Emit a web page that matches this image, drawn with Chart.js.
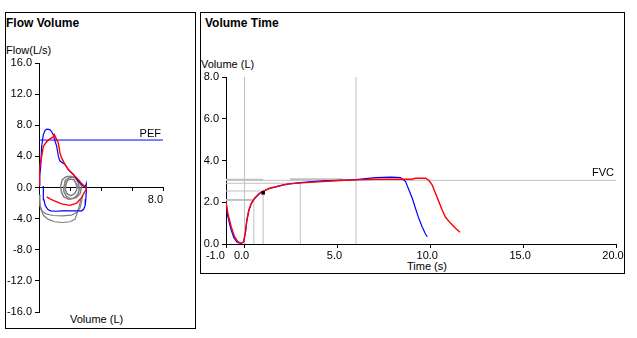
<!DOCTYPE html>
<html>
<head>
<meta charset="utf-8">
<script src="https://cdn.jsdelivr.net/npm/chart.js@4/dist/chart.umd.min.js"></script>
<style>
  body { margin: 0; width: 637px; height: 338px; background: #fff; position: relative; overflow: hidden;
         font-family: "Liberation Sans", Arial, sans-serif; font-size: 11px; color: #000; }
  .panel { position: absolute; border: 1px solid #000; box-sizing: border-box; }
  .txt { position: absolute; line-height: 1; white-space: nowrap; }
  .bold { font-weight: bold; font-size: 12px; }
  canvas { position: absolute; }
</style>
</head>
<body>
<div class="panel" style="left:5px;top:12px;width:191px;height:317px"></div>
<div class="panel" style="left:200px;top:12px;width:425px;height:262px"></div>

<div class="txt bold" style="left:6px;top:17.2px">Flow Volume</div>
<div class="txt" style="left:6px;top:45.2px">Flow(L/s)</div>
<div class="txt" style="left:70px;top:314px">Volume (L)</div>

<div class="txt bold" style="left:205px;top:17.2px">Volume Time</div>
<div class="txt" style="left:201px;top:58.7px">Volume (L)</div>
<div class="txt" style="left:407px;top:260.8px">Time (s)</div>

<canvas id="fv" width="188" height="314" style="left:6px;top:13px;width:188px;height:314px"></canvas>
<canvas id="vt" width="423" height="259" style="left:201px;top:13px;width:423px;height:259px"></canvas>

<script>
// ---- Flow Volume data (volume L, flow L/s) ----
const fvBlueVol  = [0.0, 0.05, 0.11, 0.17, 0.28, 0.39, 0.5, 0.7, 0.8, 0.92, 1.03, 1.14, 1.25, 1.35, 1.68, 1.89, 2.21, 2.54, 2.86, 3.0,
                    3.05, 3.05, 3.02, 2.98, 2.88, 2.75, 2.0, 1.5, 1.1, 0.75, 0.56, 0.4, 0.32, 0.28, 0.28];
const fvBlueFlow = [0.3, 1.5, 2.7, 5.3, 6.8, 7.35, 7.5, 7.45, 7.2, 6.8, 6.0, 5.3, 4.0, 3.4, 2.95, 2.3, 1.67, 0.8, 0.17, 0.2,
                    0.5, -0.5, -1.5, -2.3, -2.8, -3.0, -3.0, -3.0, -3.05, -3.0, -2.8, -2.3, -1.6, -0.5, 0.2];

const fvRedVol  = [0.0, 0.0, 0.06, 0.17, 0.28, 0.5, 0.71, 0.92, 0.99, 1.14, 1.25, 1.35, 1.46, 1.68, 1.89, 2.11, 2.43, 2.75, 3.03,
                   3.03, 2.75, 2.43, 2.0, 1.46, 1.03, 0.71, 0.5];
const fvRedFlow = [0.3, 1.45, 2.5, 4.0, 5.3, 5.9, 6.25, 6.5, 6.8, 6.15, 5.7, 4.45, 3.8, 2.95, 2.3, 1.9, 1.24, 0.5, 0.0,
                   -0.26, -1.3, -2.0, -2.3, -2.1, -1.75, -1.45, -1.2];

// tidal breathing loops (gray)
const tidalAVol  = [1.4, 1.5, 1.75, 2.05, 2.35, 2.55, 2.6, 2.5, 2.25, 1.9, 1.6, 1.45, 1.4];
const tidalAFlow = [0.2, 1.0, 1.4, 1.45, 1.2, 0.6, -0.2, -0.9, -1.4, -1.5, -1.2, -0.6, 0.2];
const tidalBVol  = [1.6, 1.7, 1.95, 2.3, 2.6, 2.75, 2.65, 2.4, 2.05, 1.75, 1.6, 1.6];
const tidalBFlow = [0.0, 0.9, 1.3, 1.35, 0.9, 0.1, -0.8, -1.3, -1.45, -1.1, -0.5, 0.0];
const tidalCVol  = [1.7, 1.8, 2.0, 2.25, 2.4, 2.45, 2.3, 2.05, 1.8, 1.7, 1.7];
const tidalCFlow = [0.1, 0.8, 1.1, 1.0, 0.5, -0.2, -0.8, -1.05, -0.8, -0.3, 0.1];
const grayInAVol  = [0.0, 0.06, 0.2, 0.45, 0.9, 1.5, 2.1, 2.45, 2.65, 2.75, 2.8];
const grayInAFlow = [-0.9, -2.3, -3.0, -3.4, -3.6, -3.65, -3.55, -3.2, -2.6, -1.8, -1.0];
const grayInBVol  = [0.0, 0.1, 0.3, 0.6, 1.0, 1.5, 2.0, 2.32, 2.47, 2.6, 2.69];
const grayInBFlow = [-1.2, -2.7, -3.6, -4.1, -4.4, -4.5, -4.4, -4.1, -3.25, -2.4, -1.55];

const pefFlow = 6.1;
const fvFlowTicks = [-16, 16, 4];   // min, max, step
const fvVolRange = [0, 8, 2];

// ---- Volume Time data (time s, volume L) ----
const vtRedTime = [-1.0, -0.9, -0.72, -0.54, -0.36, -0.18, -0.05, 0.05, 0.12, 0.23, 0.36, 0.54, 0.8, 1.07, 1.34, 1.7, 2.06, 2.4,
                   3.3, 4.2, 5.1, 6.0, 7.05, 8.1, 9.0, 9.2, 9.75, 9.93, 10.1, 10.28, 10.46, 10.64, 10.82, 11.1, 11.36, 11.6];
const vtRedVol  = [2.03, 1.47, 0.83, 0.35, 0.11, 0.03, 0.11, 0.6, 1.15, 1.63, 1.95, 2.19, 2.43, 2.56, 2.67, 2.75, 2.83, 2.88,
                   2.94, 2.99, 3.04, 3.07, 3.1, 3.1, 3.1, 3.15, 3.15, 3.04, 2.83, 2.43, 2.03, 1.63, 1.28, 0.99, 0.75, 0.56];
const vtBlueTime = [-1.0, -0.92, -0.75, -0.58, -0.4, -0.2, -0.05, 0.05, 0.12, 0.23, 0.36, 0.54, 0.8, 1.07, 1.34, 1.7, 2.06, 2.4,
                    3.3, 4.2, 5.1, 6.0, 7.05, 7.9, 8.4, 8.67, 8.85, 9.03, 9.2, 9.38, 9.56, 9.74, 9.84];
const vtBlueVol  = [2.05, 1.4, 0.75, 0.3, 0.08, 0.02, 0.1, 0.55, 1.1, 1.6, 1.93, 2.18, 2.42, 2.55, 2.66, 2.74, 2.82, 2.88,
                    2.97, 3.02, 3.05, 3.08, 3.18, 3.2, 3.18, 2.99, 2.59, 2.19, 1.71, 1.23, 0.83, 0.48, 0.35];

const fevTimes = [0.5, 1.0, 3.0];        // FEV0.5, FEV1, FEV3
const fevVols  = [2.11, 2.54, 2.91];
const fullTimes = [0, 6];
const fvcVol = 3.05;
const bandVols  = [3.08, 3.1];           // short thick gray bands
const bandStart = [-1, 2.44];
const bandEnd   = [1.0, 5.3];
const markTime = 1.0, markVol = 2.45;
const vtTimeTicks = [-1, 0, 5, 10, 15, 20];
const vtVolRange = [0, 8, 2];

const FONT = '"Liberation Sans", Arial, sans-serif';
Chart.defaults.font.family = FONT;
Chart.defaults.font.size = 11;
Chart.defaults.color = '#000';

const pts = (xs, ys) => xs.map((x, i) => ({ x, y: ys[i] }));
const line = (data, color, width) => ({ data, borderColor: color, borderWidth: width || 1.2, showLine: true, pointRadius: 0, fill: false, tension: 0 });

// text tag drawn next to a reference line
const tagPlugin = {
  id: 'tag',
  afterDatasetsDraw(chart, args, o) {
    const { ctx, scales: { x, y } } = chart;
    ctx.save();
    ctx.font = '11px ' + FONT;
    ctx.fillStyle = '#000';
    ctx.textAlign = 'right';
    ctx.fillText(o.text, x.getPixelForValue(o.x) + o.dx, y.getPixelForValue(o.y) - o.dy);
    ctx.restore();
  }
};

const noPad = s => { s.paddingLeft = 0; s.paddingRight = 0; s.paddingTop = 0; s.paddingBottom = 0; };

// Flow Volume chart (Chart.js paints dataset 0 last, so list is reversed)
const gray = '#808080';
const fvSets = [
  line(pts(grayInAVol, grayInAFlow), gray),
  line(pts(grayInBVol, grayInBFlow), gray),
  line(pts(tidalAVol, tidalAFlow), gray, 1.5),
  line(pts(tidalBVol, tidalBFlow), gray, 1.5),
  line(pts(tidalCVol, tidalCFlow), gray, 1.5),
  line(pts(fvBlueVol, fvBlueFlow), '#0000ff'),
  line([{ x: fvVolRange[0], y: pefFlow }, { x: fvVolRange[1], y: pefFlow }], '#0000ff', 1),
  line(pts(fvRedVol, fvRedFlow), '#ff0000', 1.4)
].reverse();

new Chart(document.getElementById('fv'), {
  type: 'scatter',
  data: { datasets: fvSets },
  options: {
    responsive: false, animation: false, events: [],
    layout: { padding: { left: 0, right: 31, top: 50, bottom: 15 } },
    plugins: { legend: { display: false }, tooltip: { enabled: false },
               tag: { text: 'PEF', x: fvVolRange[1], y: pefFlow, dx: -2, dy: 3 } },
    scales: {
      x: {
        type: 'linear', axis: 'x', position: { y: 0 }, min: fvVolRange[0], max: fvVolRange[1],
        grid: { drawOnChartArea: false, tickLength: 3, color: '#000' },
        border: { color: '#000' },
        ticks: { stepSize: fvVolRange[2], align: 'end', padding: 3,
                 callback: v => (v === fvVolRange[1] ? v.toFixed(1) : '') },
        afterFit: noPad
      },
      y: {
        type: 'linear', min: fvFlowTicks[0], max: fvFlowTicks[1],
        grid: { drawOnChartArea: false, tickLength: 4, color: '#000' },
        border: { color: '#000' },
        ticks: { stepSize: fvFlowTicks[2], padding: 3, callback: v => v.toFixed(1) },
        afterFit: s => { s.width = 33; noPad(s); }
      }
    }
  },
  plugins: [tagPlugin]
});

// Volume Time chart
const ref = '#c0c0c0';
const vtSets = [];
fullTimes.forEach(t => vtSets.push(line([{ x: t, y: vtVolRange[0] }, { x: t, y: vtVolRange[1] }], ref, 1)));
fevTimes.forEach((t, i) => {
  vtSets.push(line([{ x: t, y: 0 }, { x: t, y: fevVols[i] }], ref, 1));
  vtSets.push(line([{ x: vtTimeTicks[0], y: fevVols[i] }, { x: t, y: fevVols[i] }], ref, i === 0 ? 2 : 1));
});
bandVols.forEach((v, i) => vtSets.push(line([{ x: bandStart[i], y: v }, { x: bandEnd[i], y: v }], ref, 2)));
vtSets.push(line([{ x: vtTimeTicks[0], y: fvcVol }, { x: vtTimeTicks[vtTimeTicks.length - 1], y: fvcVol }], ref, 1));
vtSets.push(line(pts(vtBlueTime, vtBlueVol), '#0000ff'));
vtSets.push(line(pts(vtRedTime, vtRedVol), '#ff0000', 1.4));
vtSets.push({ data: [{ x: markTime, y: markVol }], showLine: false, pointStyle: 'rect', pointRadius: 2.5,
              backgroundColor: '#000', borderColor: '#000', borderWidth: 0 });
vtSets.reverse();

new Chart(document.getElementById('vt'), {
  type: 'scatter',
  data: { datasets: vtSets },
  options: {
    responsive: false, animation: false, events: [],
    layout: { padding: { left: 0, right: 8, top: 64, bottom: 12 } },
    plugins: { legend: { display: false }, tooltip: { enabled: false },
               tag: { text: 'FVC', x: vtTimeTicks[vtTimeTicks.length - 1], y: fvcVol, dx: -2, dy: 4 } },
    scales: {
      x: {
        type: 'linear', position: 'bottom', min: vtTimeTicks[0], max: vtTimeTicks[vtTimeTicks.length - 1],
        grid: { drawOnChartArea: false, tickLength: 4, color: '#000' },
        border: { color: '#000' },
        // the first label sits left of its tick, as in the source picture
        ticks: { padding: 1, labelOffset: -3, maxRotation: 0, autoSkip: false,
                 callback: v => (v === vtTimeTicks[0] ? v.toFixed(1) + '     ' : v.toFixed(1)) },
        afterBuildTicks: s => { s.ticks = vtTimeTicks.map(v => ({ value: v })); },
        afterFit: s => { s.height = 16; noPad(s); }
      },
      y: {
        type: 'linear', min: vtVolRange[0], max: vtVolRange[1],
        grid: { drawOnChartArea: false, tickLength: 4, color: '#000' },
        border: { color: '#000' },
        ticks: { stepSize: vtVolRange[2], padding: 3, callback: v => v.toFixed(1) },
        afterFit: s => { s.width = 25; noPad(s); }
      }
    }
  },
  plugins: [tagPlugin]
});
</script>
</body>
</html>
